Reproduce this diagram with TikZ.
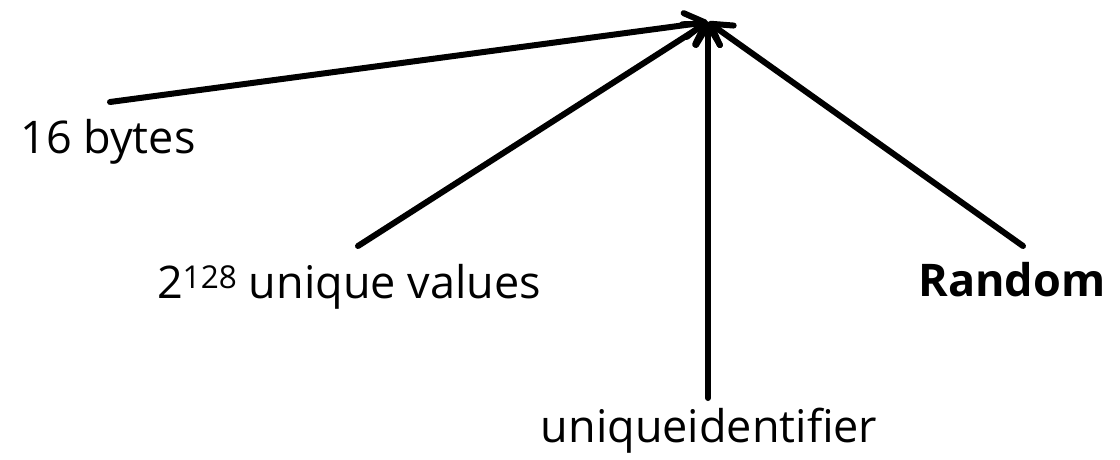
\documentclass[tikz,border=0pt]{standalone}
\usepackage{fontspec}
\setmainfont{Open Sans}
\usetikzlibrary{positioning,arrows.meta}

\begin{document}
\begin{tikzpicture}[
		x=1pt,y=-1pt,
		font=\fontsize{45}{52}\selectfont,
		lbl/.style={inner sep=0pt,anchor=base},
		ar/.style={-{Straight Barb[length=20pt,width=24pt,round]},line width=6pt,line cap=round}
		]
		\useasboundingbox (0,0) rectangle (1120,459);

		% point where all arrows meet
		\coordinate (top) at (708,22);

		\node[lbl] (bytes) at (108,153) {16 bytes};
		\node[lbl] (values) at (349,298) {2\textsuperscript{128} unique values};
		\node[lbl,font=\fontsize{45}{52}\selectfont\bfseries] (random) at (1012,296) {Random};
		\node[lbl] (uid) at (709,442) {uniqueidentifier};

		\coordinate (bytes-t) at (110,102);
		\coordinate (values-t) at (358,246);
		\coordinate (random-t) at (1023,246);
		\coordinate (uid-t) at (708,398);

		\draw[ar] (bytes-t)--(top);
		\draw[ar] (values-t)--(top);
		\draw[ar] (uid-t)--(top);
		\draw[ar] (random-t)--(top);

	\end{tikzpicture}
\end{document}
